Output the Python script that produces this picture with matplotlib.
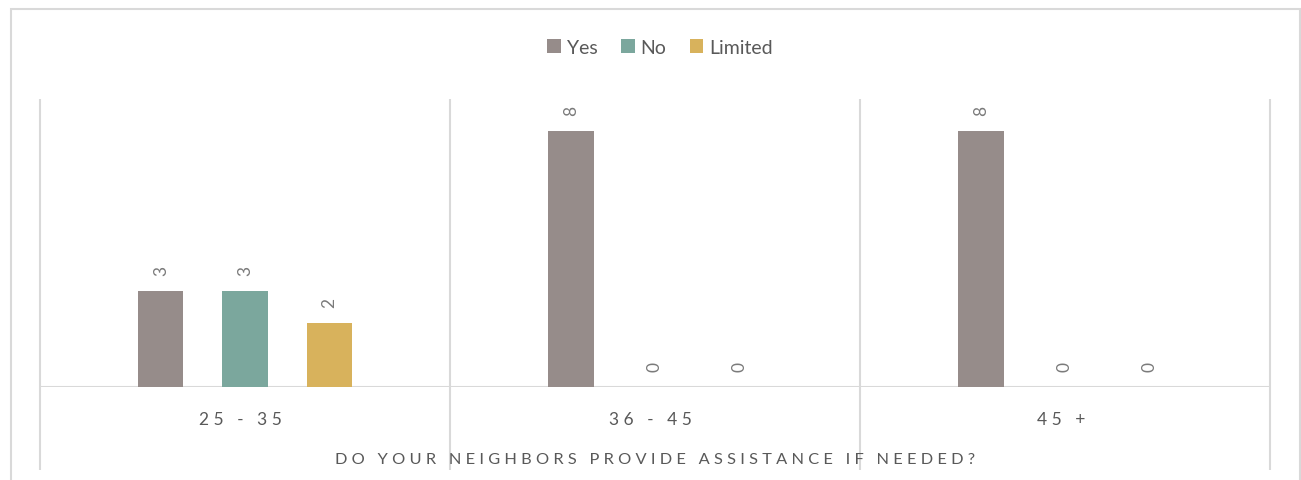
import numpy as np
import matplotlib
matplotlib.use("Agg")
import matplotlib.pyplot as plt
from matplotlib.patches import Rectangle

plt.rcParams["font.family"] = ["Lato", "DejaVu Sans"]

# data
age_groups = ["25 - 35", "36 - 45", "45 +"]
series_names = ["Yes", "No", "Limited"]
yes_vals = [3, 8, 8]
no_vals = [3, 0, 0]
limited_vals = [2, 0, 0]
x_title = "DO YOUR NEIGHBORS PROVIDE ASSISTANCE IF NEEDED?"

COLORS = ["#968C8A", "#7BA79D", "#D8B25C"]
TEXT = "#595959"
LABEL = "#7a7a7a"
GRID = "#d9d9d9"

W, H = 1301, 481


def spaced(s, word_gap=3):
    # mimic Excel character spacing
    return (" " * word_gap).join(" ".join(w) for w in s.split(" "))


fig = plt.figure(figsize=(W / 100, H / 100), dpi=100)
fig.patch.set_facecolor("white")

# outer chart border
fig.add_artist(Rectangle((10.5 / W, -0.1), 1289 / W, 1.1 - 9.5 / H,
                         transform=fig.transFigure, fill=False,
                         edgecolor=GRID, linewidth=1.5))

ax = fig.add_axes([40 / W, 1 - 388 / H, 1230 / W, 288 / H])

x = np.arange(len(age_groups))
width = 0.11
offset = 0.205
all_vals = [yes_vals, no_vals, limited_vals]

for i, (name, vals) in enumerate(zip(series_names, all_vals)):
    rects = ax.bar(x + (i - 1) * offset, vals, width, color=COLORS[i], label=name, zorder=2)
    for rect, v in zip(rects, vals):
        ax.annotate(f"{v}", xy=(rect.get_x() + rect.get_width() / 2, v),
                    xytext=(0, 15), textcoords="offset points",
                    ha="center", va="center", rotation=90,
                    fontsize=12.5, color=LABEL)

ax.set_xlim(-0.5, len(age_groups) - 0.5)
ax.set_ylim(0, 9)

for s in ax.spines.values():
    s.set_visible(False)
ax.axhline(0, color=GRID, linewidth=1.5, zorder=1)

# category separators, running down past the axis
bounds = np.arange(len(age_groups) + 1) - 0.5
ax.vlines(bounds, -(471 - 388) / 288, 1, transform=ax.get_xaxis_transform(),
          colors=GRID, linewidth=1.5, clip_on=False, zorder=1)

ax.set_yticks([])
ax.set_xticks(x - 0.01)
ax.set_xticklabels([spaced(c) for c in age_groups], fontsize=12.5, color=TEXT)
ax.tick_params(axis="x", length=0, pad=17)

fig.text(655 / W, 1 - 460 / H, spaced(x_title, 3), ha="center", va="center",
         fontsize=11.8, color=TEXT)

fig.legend(loc="center", bbox_to_anchor=(660 / W, 1 - 48 / H), ncol=3, frameon=False,
           fontsize=14, handlelength=0.7, handleheight=0.7, handletextpad=0.3,
           columnspacing=1.2, labelcolor=TEXT)

fig.savefig("out.png", dpi=100)
